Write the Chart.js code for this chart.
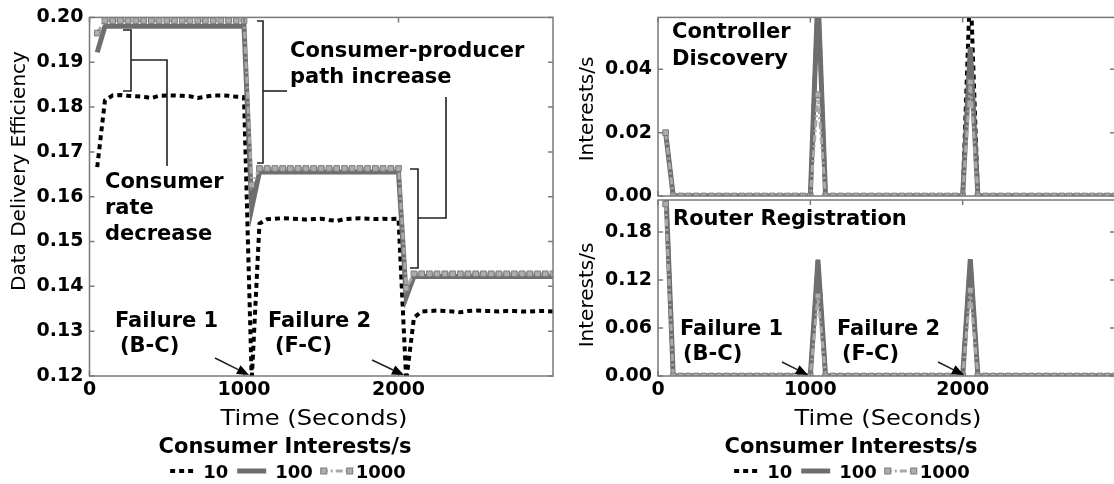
<!DOCTYPE html>
<html>
<head>
<meta charset="utf-8">
<title>Data delivery efficiency and control traffic</title>
<script src="https://cdn.jsdelivr.net/npm/chart.js@4.4.1/dist/chart.umd.min.js"></script>
<style>
  html, body { margin: 0; padding: 0; background: #fff; overflow: hidden; }
  body { width: 1114px; height: 484px; position: relative; }
  .panel { position: absolute; }
</style>
</head>
<body>
<div class="panel" style="left:0;top:0;width:560px;height:484px"><canvas id="efficiencyChart"></canvas></div>
<div class="panel" style="left:560px;top:0;width:560px;height:230px"><canvas id="discoveryChart"></canvas></div>
<div class="panel" style="left:560px;top:170px;width:560px;height:314px"><canvas id="registrationChart"></canvas></div>
<script>
// sample times (seconds)
const times = [50, 100, 150, 200, 250, 300, 350, 400, 450, 500,
  550, 600, 650, 700, 750, 800, 850, 900, 950, 1000,
  1050, 1100, 1150, 1200, 1250, 1300, 1350, 1400, 1450, 1500,
  1550, 1600, 1650, 1700, 1750, 1800, 1850, 1900, 1950, 2000,
  2050, 2100, 2150, 2200, 2250, 2300, 2350, 2400, 2450, 2500,
  2550, 2600, 2650, 2700, 2750, 2800, 2850, 2900, 2950, 3000];

const seriesNames = ['10', '100', '1000'];
const xTicks = [0, 1000, 2000];
const efficiencyTicks = [0.12, 0.13, 0.14, 0.15, 0.16, 0.17, 0.18, 0.19, 0.20];
const discoveryTicks = [0, 0.02, 0.04];
const registrationTicks = [0, 0.06, 0.12, 0.18];

// left: data delivery efficiency
const efficiency10 = [0.1666, 0.1815, 0.1826, 0.1827, 0.1825, 0.1824, 0.1823, 0.1820, 0.1825, 0.1826,
  0.1826, 0.1825, 0.1824, 0.1820, 0.1823, 0.1826, 0.1826, 0.1825, 0.1823, 0.1822,
  0.1190, 0.1540, 0.1550, 0.1551, 0.1552, 0.1551, 0.1550, 0.1549, 0.1550, 0.1551,
  0.1548, 0.1546, 0.1550, 0.1551, 0.1552, 0.1551, 0.1550, 0.1551, 0.1550, 0.1551,
  0.1190, 0.1330, 0.1344, 0.1345, 0.1346, 0.1345, 0.1344, 0.1342, 0.1345, 0.1346,
  0.1345, 0.1345, 0.1344, 0.1345, 0.1345, 0.1344, 0.1344, 0.1345, 0.1345, 0.1344];
const efficiency100 = [0.1922, 0.1980, 0.1980, 0.1980, 0.1980, 0.1980, 0.1980, 0.1980, 0.1980, 0.1980,
  0.1980, 0.1980, 0.1980, 0.1980, 0.1980, 0.1980, 0.1980, 0.1980, 0.1980, 0.1980,
  0.1575, 0.1655, 0.1655, 0.1655, 0.1655, 0.1655, 0.1655, 0.1655, 0.1655, 0.1655,
  0.1655, 0.1655, 0.1655, 0.1655, 0.1655, 0.1655, 0.1655, 0.1655, 0.1655, 0.1655,
  0.1376, 0.1422, 0.1422, 0.1422, 0.1422, 0.1422, 0.1422, 0.1422, 0.1422, 0.1422,
  0.1422, 0.1422, 0.1422, 0.1422, 0.1422, 0.1422, 0.1422, 0.1422, 0.1422, 0.1422];
const efficiency1000 = [0.1965, 0.1993, 0.1993, 0.1993, 0.1993, 0.1993, 0.1993, 0.1993, 0.1993, 0.1993,
  0.1993, 0.1993, 0.1993, 0.1993, 0.1993, 0.1993, 0.1993, 0.1993, 0.1993, 0.1993,
  0.1626, 0.1663, 0.1663, 0.1663, 0.1663, 0.1663, 0.1663, 0.1663, 0.1663, 0.1663,
  0.1663, 0.1663, 0.1663, 0.1663, 0.1663, 0.1663, 0.1663, 0.1663, 0.1663, 0.1663,
  0.1396, 0.1428, 0.1428, 0.1428, 0.1428, 0.1428, 0.1428, 0.1428, 0.1428, 0.1428,
  0.1428, 0.1428, 0.1428, 0.1428, 0.1428, 0.1428, 0.1428, 0.1428, 0.1428, 0.1428];

// right top: controller discovery
const discovery10 = [0.02, 0, 0, 0, 0, 0, 0, 0, 0, 0,
  0, 0, 0, 0, 0, 0, 0, 0, 0, 0,
  0.064, 0, 0, 0, 0, 0, 0, 0, 0, 0,
  0, 0, 0, 0, 0, 0, 0, 0, 0, 0,
  0.068, 0, 0, 0, 0, 0, 0, 0, 0, 0,
  0, 0, 0, 0, 0, 0, 0, 0, 0, 0];
const discovery100 = [0.02, 0, 0, 0, 0, 0, 0, 0, 0, 0,
  0, 0, 0, 0, 0, 0, 0, 0, 0, 0,
  0.064, 0, 0, 0, 0, 0, 0, 0, 0, 0,
  0, 0, 0, 0, 0, 0, 0, 0, 0, 0,
  0.047, 0, 0, 0, 0, 0, 0, 0, 0, 0,
  0, 0, 0, 0, 0, 0, 0, 0, 0, 0];
const discovery1000 = [0.02, 0, 0, 0, 0, 0, 0, 0, 0, 0,
  0, 0, 0, 0, 0, 0, 0, 0, 0, 0,
  0.032, 0, 0, 0, 0, 0, 0, 0, 0, 0,
  0, 0, 0, 0, 0, 0, 0, 0, 0, 0,
  0.036, 0, 0, 0, 0, 0, 0, 0, 0, 0,
  0, 0, 0, 0, 0, 0, 0, 0, 0, 0];

// right bottom: router registration
const registration10 = [0.24, 0, 0, 0, 0, 0, 0, 0, 0, 0,
  0, 0, 0, 0, 0, 0, 0, 0, 0, 0,
  0.145, 0, 0, 0, 0, 0, 0, 0, 0, 0,
  0, 0, 0, 0, 0, 0, 0, 0, 0, 0,
  0.146, 0, 0, 0, 0, 0, 0, 0, 0, 0,
  0, 0, 0, 0, 0, 0, 0, 0, 0, 0];
const registration100 = [0.24, 0, 0, 0, 0, 0, 0, 0, 0, 0,
  0, 0, 0, 0, 0, 0, 0, 0, 0, 0,
  0.145, 0, 0, 0, 0, 0, 0, 0, 0, 0,
  0, 0, 0, 0, 0, 0, 0, 0, 0, 0,
  0.146, 0, 0, 0, 0, 0, 0, 0, 0, 0,
  0, 0, 0, 0, 0, 0, 0, 0, 0, 0];
const registration1000 = [0.215, 0, 0, 0, 0, 0, 0, 0, 0, 0,
  0, 0, 0, 0, 0, 0, 0, 0, 0, 0,
  0.10, 0, 0, 0, 0, 0, 0, 0, 0, 0,
  0, 0, 0, 0, 0, 0, 0, 0, 0, 0,
  0.107, 0, 0, 0, 0, 0, 0, 0, 0, 0,
  0, 0, 0, 0, 0, 0, 0, 0, 0, 0];

const tickFont = { family: 'DejaVu Sans', size: 19, weight: 'bold' };

const lineStyles = [
    { borderColor: '#000000', borderWidth: 4, borderDash: [5, 4], pointRadius: 0, order: 3 },
    { borderColor: '#6e6e6e', borderWidth: 5, pointRadius: 0, order: 2 },
    { borderColor: '#a9a9a9', borderWidth: 3, borderDash: [7, 3, 2, 3], pointStyle: 'rect', pointRadius: 4,
      pointBackgroundColor: '#adadad', pointBorderColor: '#7b7b7b', pointBorderWidth: 1, order: 1 }
];

function makeDatasets(valueLists) {
    return valueLists.map((vals, i) => Object.assign({
        label: seriesNames[i],
        data: times.map((t, k) => ({ x: t, y: vals[k] })),
        tension: 0,
        clip: 0
    }, lineStyles[i]));
}

function chartOptions(o) {
    return {
        responsive: true,
        maintainAspectRatio: false,
        animation: false,
        events: [],
        layout: { padding: o.padding },
        plugins: { legend: { display: false }, tooltip: { enabled: false } },
        scales: {
            x: {
                type: 'linear', min: 0, max: 3000, display: o.showX,
                afterBuildTicks: s => { s.ticks = xTicks.map(v => ({ value: v })); },
                afterFit: o.showX ? (s => { s.height = 108; }) : undefined,
                grid: { display: false, drawTicks: false },
                border: { display: false },
                ticks: { color: '#000', font: tickFont, padding: 3, maxRotation: 0, autoSkip: false,
                         callback: v => String(v) }
            },
            y: {
                type: 'linear', min: o.yMin, max: o.yMax,
                afterBuildTicks: s => { s.ticks = o.yTicks.map(v => ({ value: v })); },
                afterFit: s => { s.width = o.yWidth; },
                grid: { display: false, drawTicks: false },
                border: { display: false },
                ticks: { color: '#000', font: tickFont, padding: 6, callback: v => v.toFixed(2) }
            }
        }
    };
}

function drawText(ctx, n) {
    ctx.save();
    ctx.font = (n.bold ? 'bold ' : '') + n.size + 'px "DejaVu Sans"';
    ctx.fillStyle = '#000';
    ctx.textAlign = n.align || 'left';
    ctx.textBaseline = 'alphabetic';
    ctx.translate(n.x, n.y);
    if (n.rotate) ctx.rotate(-Math.PI / 2);
    if (n.stretch) ctx.scale(n.stretch, 1);
    ctx.fillText(n.text, 0, 0);
    ctx.restore();
}

function drawSample(ctx, i, x, y, w) {
    const s = lineStyles[i];
    ctx.save();
    ctx.strokeStyle = s.borderColor;
    ctx.lineWidth = s.borderWidth;
    ctx.setLineDash(s.borderDash || []);
    ctx.beginPath();
    ctx.moveTo(x, y);
    ctx.lineTo(x + w, y);
    ctx.stroke();
    if (s.pointStyle === 'rect') {
        ctx.setLineDash([]);
        ctx.fillStyle = s.pointBackgroundColor;
        ctx.strokeStyle = s.pointBorderColor;
        ctx.lineWidth = 1;
        [x + 3, x + w - 3].forEach(px => {
            ctx.fillRect(px - 3, y - 3, 6, 6);
            ctx.strokeRect(px - 3, y - 3, 6, 6);
        });
    }
    ctx.restore();
}

function drawLegend(ctx, lg) {
    drawText(ctx, { text: 'Consumer Interests/s', x: lg.titleX, y: 453, size: 21, bold: true, align: 'center' });
    ctx.font = 'bold 18px "DejaVu Sans"';
    const sampleW = [24, 29, 32];
    const afterSample = [9, 9, 3];
    const afterLabel = [9, 8, 0];
    let total = 0;
    seriesNames.forEach((name, i) => {
        total += sampleW[i] + afterSample[i] + ctx.measureText(name).width + afterLabel[i];
    });
    let x = lg.rowX - total / 2;
    seriesNames.forEach((name, i) => {
        drawSample(ctx, i, x, 471, sampleW[i]);
        x += sampleW[i] + afterSample[i];
        drawText(ctx, { text: name, x: x, y: 478, size: 18, bold: true });
        ctx.font = 'bold 18px "DejaVu Sans"';
        x += ctx.measureText(name).width + afterLabel[i];
    });
}

// frame, inward ticks and annotations (page coordinates shifted by the canvas offset)
function paper(spec) {
    return {
        id: 'paper',
        afterDraw(chart) {
            const ctx = chart.ctx;
            const a = chart.chartArea;
            const xs = chart.scales.x, ys = chart.scales.y;
            ctx.save();
            ctx.strokeStyle = '#7a7a7a';
            ctx.lineWidth = 1.5;
            ctx.strokeRect(a.left, a.top, a.right - a.left, a.bottom - a.top);
            ctx.beginPath();
            spec.yTicks.forEach(v => {
                const y = ys.getPixelForValue(v);
                ctx.moveTo(a.left, y); ctx.lineTo(a.left + 5, y);
                ctx.moveTo(a.right, y); ctx.lineTo(a.right - 5, y);
            });
            xTicks.forEach(v => {
                const x = xs.getPixelForValue(v);
                ctx.moveTo(x, a.bottom); ctx.lineTo(x, a.bottom - 5);
                ctx.moveTo(x, a.top); ctx.lineTo(x, a.top + 5);
            });
            ctx.stroke();

            ctx.translate(-spec.left, -spec.top);
            ctx.strokeStyle = '#222';
            ctx.fillStyle = '#000';
            ctx.lineWidth = 1.6;
            (spec.brackets || []).forEach(pts => {
                ctx.beginPath();
                pts.forEach((p, i) => i ? ctx.lineTo(p[0], p[1]) : ctx.moveTo(p[0], p[1]));
                ctx.stroke();
            });
            (spec.arrows || []).forEach(([x0, y0, x1, y1]) => {
                const ang = Math.atan2(y1 - y0, x1 - x0);
                const bx = x1 - 12 * Math.cos(ang), by = y1 - 12 * Math.sin(ang);
                ctx.beginPath();
                ctx.moveTo(x0, y0);
                ctx.lineTo(bx, by);
                ctx.stroke();
                ctx.beginPath();
                ctx.moveTo(x1, y1);
                ctx.lineTo(bx + 5 * Math.sin(ang), by - 5 * Math.cos(ang));
                ctx.lineTo(bx - 5 * Math.sin(ang), by + 5 * Math.cos(ang));
                ctx.closePath();
                ctx.fill();
            });
            (spec.notes || []).forEach(n => drawText(ctx, n));
            if (spec.legend) drawLegend(ctx, spec.legend);
            ctx.restore();
        }
    };
}

const note = (text, x, y) => ({ text, x, y, size: 21, bold: true });

new Chart(document.getElementById('efficiencyChart'), {
    type: 'line',
    data: { datasets: makeDatasets([efficiency10, efficiency100, efficiency1000]) },
    options: chartOptions({
        padding: { top: 17, right: 7, bottom: 0, left: 0 },
        showX: true, yMin: 0.12, yMax: 0.20, yTicks: efficiencyTicks, yWidth: 89.5
    }),
    plugins: [paper({
        left: 0, top: 0, yTicks: efficiencyTicks,
        brackets: [
            [[257, 21], [263, 21], [263, 163], [257, 163]], [[263, 91], [287, 91]],
            [[123, 30], [131, 30], [131, 91], [123, 91]], [[131, 60], [167, 60], [167, 166]],
            [[410, 169], [418, 169], [418, 268], [410, 268]], [[418, 218], [446, 218], [446, 97]]
        ],
        arrows: [[215, 358, 249, 375], [372, 360, 404, 375]],
        notes: [
            note('Consumer-producer', 290, 57), note('path increase', 290, 83),
            note('Consumer', 105, 188), note('rate', 105, 214), note('decrease', 105, 240),
            note('Failure 1', 115, 327), note('(B-C)', 120, 352),
            note('Failure 2', 268, 327), note('(F-C)', 275, 352),
            { text: 'Data Delivery Efficiency', x: 25, y: 171, size: 20, rotate: true, align: 'center' },
            { text: 'Time (Seconds)', x: 314, y: 425, size: 21, align: 'center', stretch: 1.15 }
        ],
        legend: { titleX: 285, rowX: 288 }
    })]
});

new Chart(document.getElementById('discoveryChart'), {
    type: 'line',
    data: { datasets: makeDatasets([discovery10, discovery100, discovery1000]) },
    options: chartOptions({
        padding: { top: 17, right: 3, bottom: 34, left: 0 },
        showX: false, yMin: 0, yMax: 0.0564, yTicks: discoveryTicks, yWidth: 98
    }),
    plugins: [paper({
        left: 560, top: 0, yTicks: discoveryTicks,
        notes: [
            note('Controller', 672, 38), note('Discovery', 672, 65),
            { text: 'Interests/s', x: 593, y: 109, size: 20, rotate: true, align: 'center' }
        ]
    })]
});

new Chart(document.getElementById('registrationChart'), {
    type: 'line',
    data: { datasets: makeDatasets([registration10, registration100, registration1000]) },
    options: chartOptions({
        padding: { top: 30, right: 3, bottom: 0, left: 0 },
        showX: true, yMin: 0, yMax: 0.22, yTicks: registrationTicks, yWidth: 98
    }),
    plugins: [paper({
        left: 560, top: 170, yTicks: registrationTicks,
        arrows: [[782, 362, 808, 375], [938, 362, 964, 375]],
        notes: [
            note('Router Registration', 673, 225),
            note('Failure 1', 680, 335), note('(B-C)', 683, 360),
            note('Failure 2', 837, 335), note('(F-C)', 842, 360),
            { text: 'Interests/s', x: 593, y: 295, size: 20, rotate: true, align: 'center' },
            { text: 'Time (Seconds)', x: 888, y: 425, size: 21, align: 'center', stretch: 1.15 }
        ],
        legend: { titleX: 851, rowX: 852 }
    })]
});
</script>
</body>
</html>
